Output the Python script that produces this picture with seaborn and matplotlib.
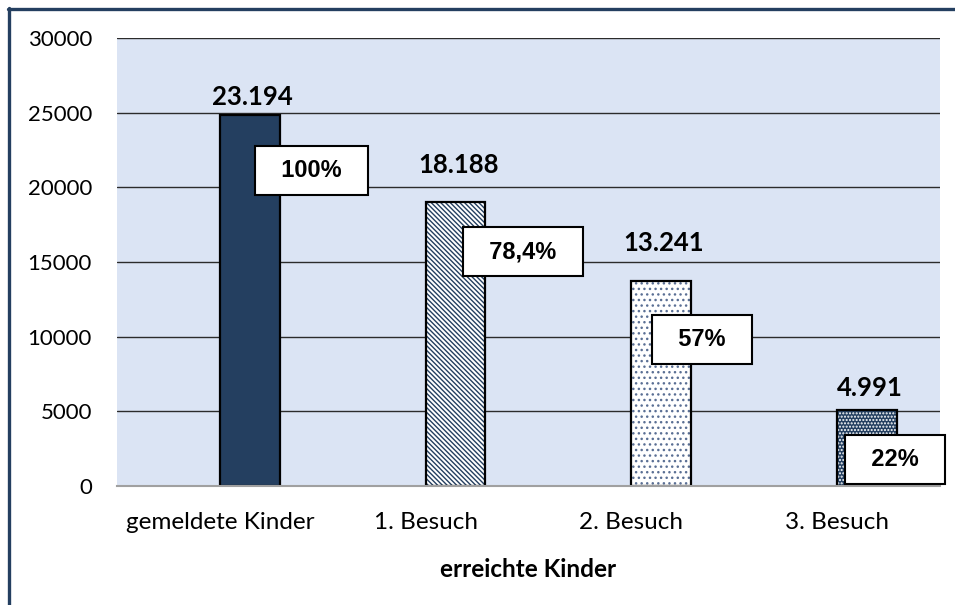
import matplotlib
matplotlib.use("Agg")
import matplotlib.pyplot as plt
import seaborn as sns
import pandas as pd
import numpy as np
from matplotlib.lines import Line2D

# ---- data ----
categories = ["gemeldete Kinder", "1. Besuch", "2. Besuch", "3. Besuch"]
bar_values = [24850, 19050, 13700, 5100]
value_labels = ["23.194", "18.188", "13.241", "4.991"]
percent_labels = ["100%", "78,4%", "57%", "22%"]
y_ticks = [0, 5000, 10000, 15000, 20000, 25000, 30000]
x_title = "erreichte Kinder"

# ---- styles ----
NAVY = "#243f60"
BG = "#dbe4f4"
face_colors = [NAVY, "white", "white", NAVY]
hatches = [None, "\\" * 7, "...", "....."]
hatch_colors = [NAVY, NAVY, "#5a6f94", "white"]
value_pad_pt = [4, 18, 19, 7]
pct_offsets_pt = [(66, -40), (70, -36), (51, -42), (42, -36)]

sns.set_theme(style="white")
plt.rcParams["font.family"] = ["Lato", "DejaVu Sans"]
plt.rcParams["hatch.linewidth"] = 1.0

df = pd.DataFrame({"Kategorie": categories, "Kinder": bar_values, "Reihe": "erreicht"})
pad = pd.DataFrame({"Kategorie": categories, "Kinder": [np.nan] * 4, "Reihe": "leer"})
data = pd.concat([pad, df], ignore_index=True)

fig = plt.figure(figsize=(9.55, 6.05), dpi=100)
fig.patch.set_facecolor("white")
ax = fig.add_axes([117 / 955, 1 - 486 / 605, 823 / 955, 448 / 605])
ax.set_facecolor(BG)

# fill layer (hatches)
sns.barplot(data=data, x="Kategorie", y="Kinder", hue="Reihe", order=categories,
            hue_order=["leer", "erreicht"], palette={"leer": "white", "erreicht": NAVY},
            width=0.58, dodge=True, legend=False, linewidth=0, ax=ax, zorder=3,
            errorbar=None, saturation=1)
bars = [p for p in ax.patches if np.isfinite(p.get_height()) and p.get_height() > 0]
bars.sort(key=lambda p: p.get_x())
for p, fc, h, hc in zip(bars, face_colors, hatches, hatch_colors):
    p.set_facecolor(fc)
    p.set_edgecolor(hc)
    p.set_linewidth(0)
    if h:
        p.set_hatch(h)

# outline layer
sns.barplot(data=data, x="Kategorie", y="Kinder", hue="Reihe", order=categories,
            hue_order=["leer", "erreicht"], palette={"leer": "black", "erreicht": "black"},
            width=0.58, dodge=True, legend=False, fill=False, linewidth=1.6, ax=ax,
            zorder=4, errorbar=None)

# value labels
for p, lab, padpt in zip(bars, value_labels, value_pad_pt):
    ax.annotate(lab, xy=(p.get_x() + p.get_width() / 2, p.get_height()),
                xytext=(2, padpt), textcoords="offset points", ha="center", va="bottom",
                fontsize=18.5, fontweight="bold", color="black", zorder=6)

# percentage boxes
for p, lab, (dx, dy) in zip(bars, percent_labels, pct_offsets_pt):
    ax.annotate("  " + lab + "  ", xy=(p.get_x(), p.get_height()),
                xytext=(dx, dy), textcoords="offset points", ha="center", va="center",
                fontsize=17, fontweight="bold", family=["Liberation Sans", "DejaVu Sans"],
                color="black", zorder=7,
                bbox=dict(boxstyle="square,pad=0.55", fc="white", ec="black", lw=1.5))

# axes
ax.set_ylim(0, 30000)
ax.set_xlim(-0.5, len(categories) - 0.5)
ax.set_yticks(y_ticks)
ax.set_yticklabels([str(v) for v in y_ticks])
ax.yaxis.grid(True, color="#2b2b2b", linewidth=1.0, zorder=1)
ax.set_axisbelow(True)
ax.tick_params(axis="y", length=0, pad=18, labelsize=16, labelcolor="black")

ax.set_xticks(np.arange(-0.5, len(categories)))
ax.set_xticklabels([""] * (len(categories) + 1))
ax.set_xticks(np.arange(len(categories)), minor=True)
ax.set_xticklabels(categories, minor=True)
ax.tick_params(axis="x", which="major", length=6, width=1.3, color="#a0a0a0", direction="out")
ax.tick_params(axis="x", which="minor", length=0, pad=19, labelsize=17.5, labelcolor="black")

for s in ["top", "right", "left"]:
    ax.spines[s].set_visible(False)
ax.spines["bottom"].set_color("#a0a0a0")
ax.spines["bottom"].set_linewidth(1.5)
ax.spines["bottom"].set_zorder(5)

ax.set_xlabel(x_title, fontsize=17.5, fontweight="bold", labelpad=18, color="black")
ax.set_ylabel("")

# figure frame (top and left)
fig.add_artist(Line2D([7.5 / 955, 1], [1 - 8.5 / 605, 1 - 8.5 / 605], color=NAVY, lw=2.4,
                      transform=fig.transFigure))
fig.add_artist(Line2D([8.5 / 955, 8.5 / 955], [0, 1 - 7.5 / 605], color=NAVY, lw=2.4,
                      transform=fig.transFigure))

fig.savefig("out.png", dpi=100)
